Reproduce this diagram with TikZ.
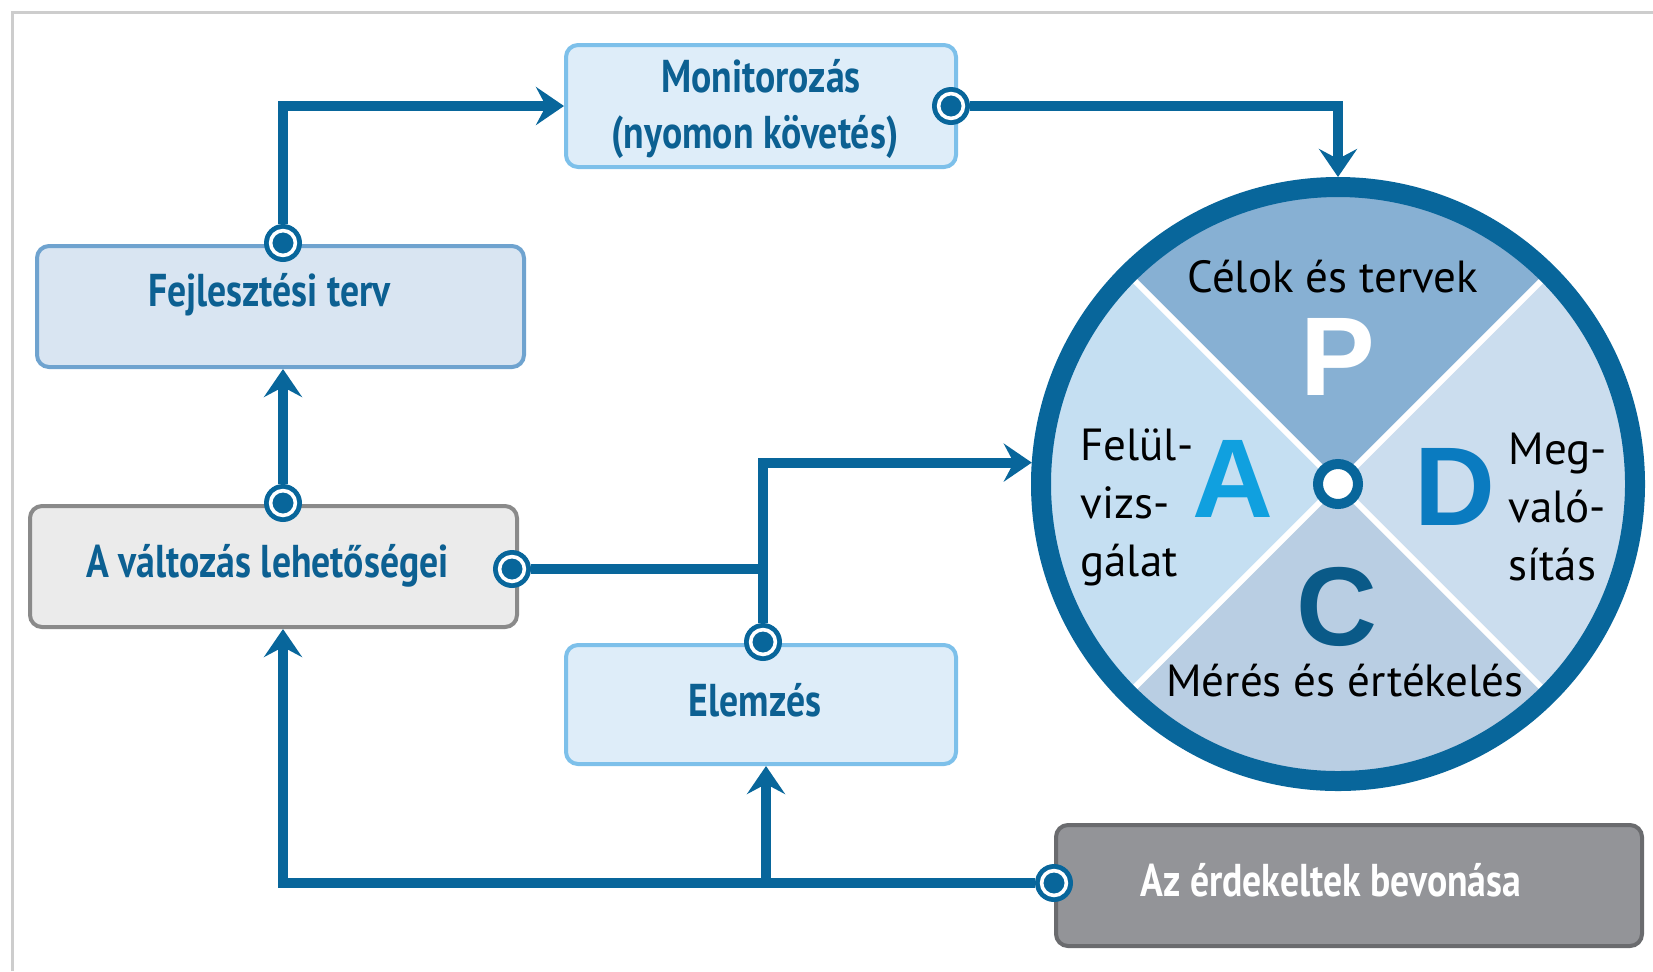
\documentclass[tikz,border=0pt]{standalone}
\usepackage{fontspec}
\setmainfont{PT Sans}
\newfontfamily\boxfont{PT Sans Bold}[FakeStretch=0.82]
\newfontfamily\letterfont{Liberation Sans Bold}
\usetikzlibrary{arrows.meta, calc, positioning}
\definecolor{lineblue}{RGB}{8,102,155}
\definecolor{boxtext}{RGB}{12,96,146}
\definecolor{fejlfill}{RGB}{217,229,242}
\definecolor{fejldraw}{RGB}{111,163,207}
\definecolor{monfill}{RGB}{222,237,249}
\definecolor{mondraw}{RGB}{125,192,234}
\definecolor{lightgrayfill}{RGB}{235,235,235}
\definecolor{lightgraydraw}{RGB}{138,138,138}
\definecolor{darkgrayfill}{RGB}{147,148,152}
\definecolor{darkgraydraw}{RGB}{106,107,110}
\definecolor{secP}{RGB}{135,176,211}
\definecolor{secD}{RGB}{203,221,238}
\definecolor{secC}{RGB}{185,206,227}
\definecolor{secA}{RGB}{197,223,242}
\definecolor{letA}{RGB}{16,160,223}
\definecolor{letD}{RGB}{10,123,192}
\definecolor{letC}{RGB}{10,90,136}
\definecolor{framegray}{RGB}{205,205,205}
\tikzset{
    flowbox/.style 2 args={
        draw=#2, fill=#1, line width=2pt, rounded corners=6pt,
        font=\boxfont\fontsize{23}{28}\selectfont, text=boxtext,
        align=center, inner sep=0pt
    },
    port/.style={
        circle, fill=lineblue, minimum size=19pt, inner sep=0pt,
        path picture={\draw[white, line width=1.8pt] (path picture bounding box.center) circle[radius=6.2pt];}
    },
    conn/.style={
        draw=lineblue, line width=5pt,
        -{Stealth[length=14pt, width=19pt, inset=5pt]}
    },
    ctext/.style={font=\fontsize{22.5}{29}\selectfont, text=black, inner sep=0pt},
    letter/.style={font=\letterfont\fontsize{56}{56}\selectfont, inner sep=0pt}
}
\begin{document}
\begin{tikzpicture}[x=0.5pt, y=-0.5pt]
    \def \R {148.5pt}
    \useasboundingbox (0,0) rectangle (1653,971);
    \draw[framegray, line width=1.5pt] (12,971) -- (12,12) -- (1653,12);

    % boxes
    \node[flowbox={monfill}{mondraw}, minimum width=195pt, minimum height=61pt] (monit) at (761,106) {\rule{0pt}{20pt}Monitorozás\\(nyomon követés)\hspace*{6pt}};
    \node[flowbox={fejlfill}{fejldraw}, minimum width=243.5pt, minimum height=60.5pt, text height=16pt, text depth=16pt] (fejl) at (280.5,306.5) {Fejlesztési terv\hspace*{11pt}};
    \node[flowbox={lightgrayfill}{lightgraydraw}, minimum width=243.5pt, minimum height=60.5pt, text height=16pt, text depth=5.5pt] (valt) at (273.5,566.5) {A változás lehetőségei\hspace*{6pt}};
    \node[flowbox={monfill}{mondraw}, minimum width=195pt, minimum height=59.5pt, text height=16pt, text depth=4pt] (elem) at (761,704.5) {Elemzés\hspace*{6pt}};
    \node[flowbox={darkgrayfill}{darkgraydraw}, text=white, minimum width=293pt, minimum height=60.5pt, text height=16pt, text depth=5.5pt] (erd) at (1349,885.5) {Az érdekeltek bevonása\hspace*{18pt}};

    % PDCA wheel
    \coordinate (c) at (1338,484);
    \fill[secP] (c) -- ++(45:\R) arc[start angle=45, end angle=135, radius=\R] -- cycle;
    \fill[secA] (c) -- ++(135:\R) arc[start angle=135, end angle=225, radius=\R] -- cycle;
    \fill[secC] (c) -- ++(225:\R) arc[start angle=225, end angle=315, radius=\R] -- cycle;
    \fill[secD] (c) -- ++(-45:\R) arc[start angle=-45, end angle=45, radius=\R] -- cycle;
    \draw[white, line width=3pt] ($(c)+(45:\R)$) -- ($(c)+(225:\R)$);
    \draw[white, line width=3pt] ($(c)+(135:\R)$) -- ($(c)+(315:\R)$);
    \draw[lineblue, line width=10pt] (c) circle[radius=\R];
    \draw[lineblue, fill=white, line width=5pt] (c) circle[radius=10pt];
    \node[circle, minimum size=307pt, inner sep=0pt, outer sep=0pt] (pdca) at (c) {};

    \node[ctext] (plan) at (1333,277) {Célok és tervek};
    \node[letter, text=white] (lP) at (1338,357) {P};
    \node[ctext, align=left, anchor=west] (act) at (1080,507) {Felül-\\vizs-\\gálat};
    \node[letter, text=letA] (lA) at (1233,479) {A};
    \node[letter, text=letD] (lD) at (1455,487) {D};
    \node[ctext, align=left, anchor=west] (do) at (1508,507) {Meg-\\való-\\sítás};
    \node[letter, text=letC] (lC) at (1337,607) {C};
    \node[ctext] (check) at (1345,681) {Mérés és értékelés};

    % ports
    \node[port] (pfejl) at (283,243) {};
    \node[port] (pmon) at (951,106) {};
    \node[port] (pvalt) at (283,503) {};
    \node[port] (pvaltr) at (512,569) {};
    \node[port] (pelem) at (763,642) {};
    \node[port] (perd) at (1054,883) {};
    \coordinate (ebr) at (766,883);

    % connectors
    \draw[conn] (pfejl) |- (monit.west);
    \draw[conn] (pmon) -| (pdca.north);
    \draw[conn] (pvalt) -- (pvalt |- fejl.south);
    \draw[conn, arrows=-] (pvaltr) -- (pvaltr -| pelem);
    \draw[conn] (pelem) |- (pdca.176);
    \draw[conn] (perd) -| (pvalt |- valt.south);
    \draw[conn] (ebr) -- (ebr |- elem.south);
\end{tikzpicture}
\end{document}
